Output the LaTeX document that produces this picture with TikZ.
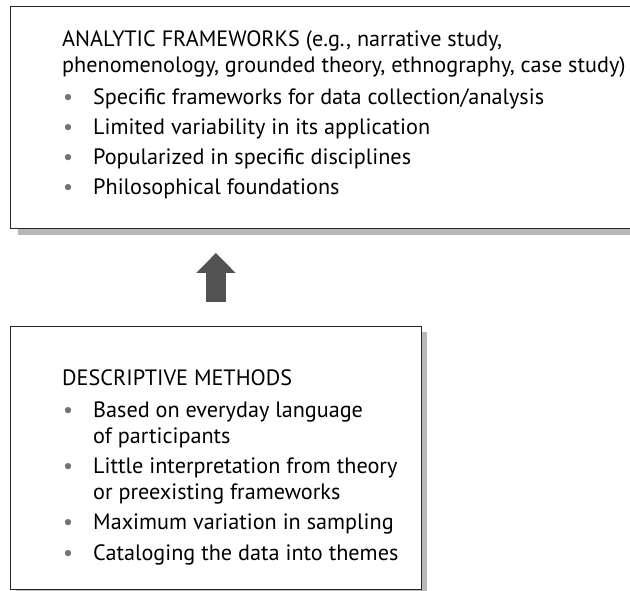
\documentclass[tikz,border=0pt]{standalone}
\usepackage{fontspec}
\setmainfont{PT Sans}
\usetikzlibrary{arrows.meta}
\usetikzlibrary{positioning}

\tikzset{
  panel/.style={draw=black!85, line width=0.9pt, fill=white, anchor=north west, inner sep=0pt},
  panelshadow/.style={fill=black!28},
  listtext/.style={anchor=north west, inner sep=0pt, align=left, font=\fontsize{22.2}{25.5}\selectfont},
  liftarrow/.style={draw=black!68, line width=20pt, -{Triangle[width=38pt,length=20pt]}}
}
\newcommand{\blt}{\makebox[31pt][l]{\hspace{1pt}\textcolor{black!55}{\textbullet}}}
\newcommand{\nob}{\makebox[31pt][l]{}}

\begin{document}
\begin{tikzpicture}[x=1pt,y=-1pt]
  \useasboundingbox (0,0) rectangle (630,591);
  \clip (0,0) rectangle (630,591);

  %% upper panel
  \fill[panelshadow] (18,10) rectangle (650,235);
  \node[panel, minimum width=640pt, minimum height=222pt] (analytic) at (10,6) {};
  \node[listtext] (analytictext) at (62,30.5) {%
    ANALYTIC FRAMEWORKS (e.g., narrative study,\\
    phenomenology, grounded theory, ethnography, case study)\\[6.5pt]
    \blt Specific frameworks for data collection/analysis\\[4.5pt]
    \blt Limited variability in its application\\[4.5pt]
    \blt Popularized in specific disciplines\\[5pt]
    \blt Philosophical foundations};

  %% lower panel
  \fill[panelshadow] (16,332) rectangle (427,600);
  \node[panel, minimum width=411pt, minimum height=263pt] (descriptive) at (10,326) {};
  \node[listtext] (descriptivetext) at (62,369.5) {%
    DESCRIPTIVE METHODS\\[6.5pt]
    \blt Based on everyday language\\
    \nob of participants\\[5pt]
    \blt Little interpretation from theory\\
    \nob or preexisting frameworks\\[5pt]
    \blt Maximum variation in sampling\\[5pt]
    \blt Cataloging the data into themes};

  % arrow between the panels
  \draw[liftarrow, shorten <=24pt, shorten >=24pt]
    (descriptive.north) -- (descriptive.north |- analytic.south);
\end{tikzpicture}
\end{document}
